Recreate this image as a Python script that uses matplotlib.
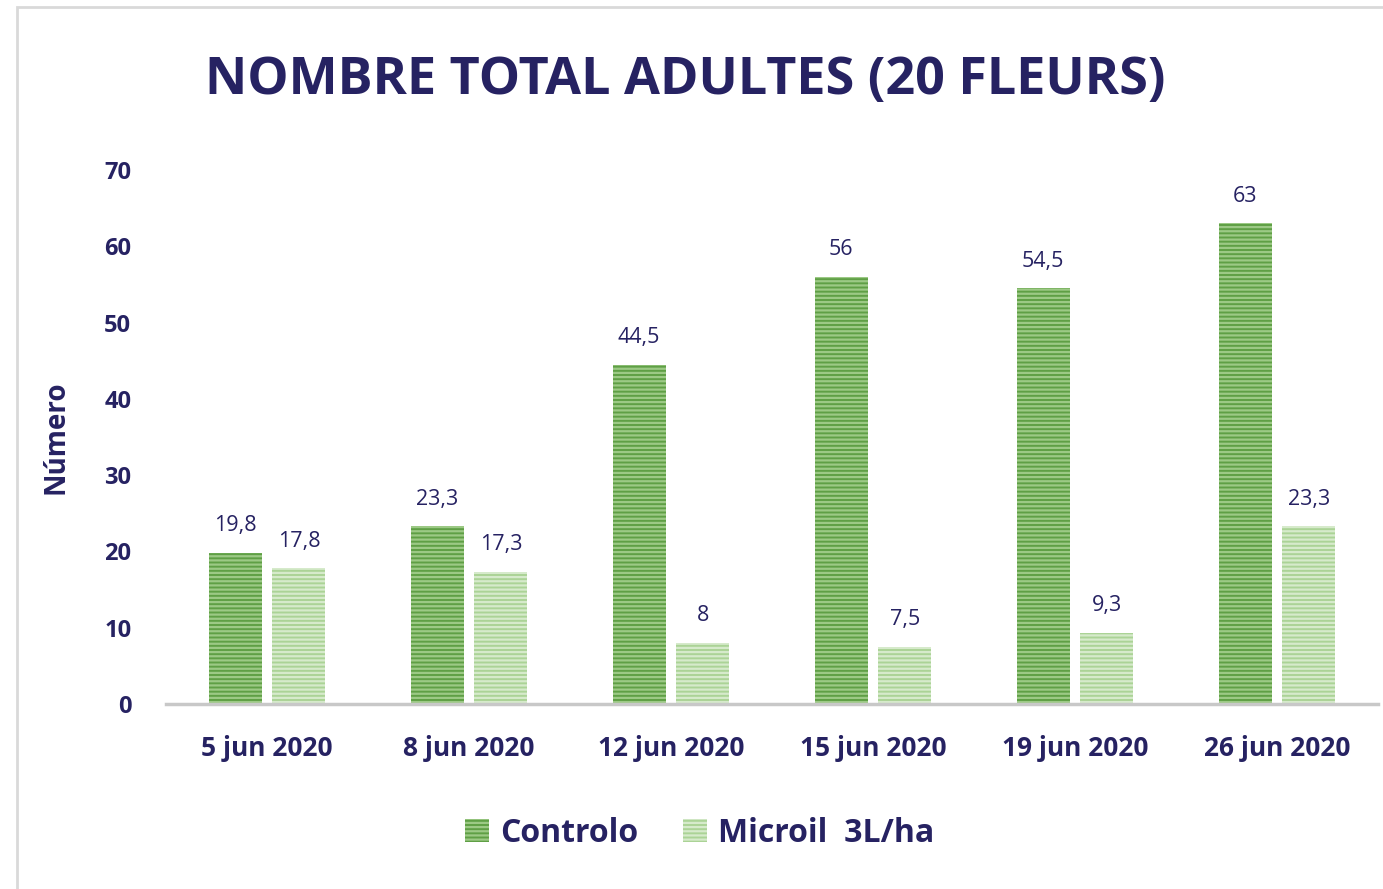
import matplotlib.pyplot as plt
from matplotlib.patches import Rectangle, Patch
import numpy as np

# ---- data ----
dates = ["5 jun 2020", "8 jun 2020", "12 jun 2020", "15 jun 2020", "19 jun 2020", "26 jun 2020"]
controlo = [19.8, 23.3, 44.5, 56, 54.5, 63]
microil = [17.8, 17.3, 8, 7.5, 9.3, 23.3]
series_names = ["Controlo", "Microil  3L/ha"]
title = "NOMBRE TOTAL ADULTES (20 FLEURS)"

navy = "#262262"
dark_green, dark_stripe = "#5f9f45", "#9cc985"
light_green, light_stripe = "#abd396", "#d6eacb"
plt.rcParams['font.family'] = ['Open Sans', 'DejaVu Sans']
plt.rcParams['hatch.linewidth'] = 1.6

fig = plt.figure(figsize=(13.83, 8.89), dpi=100)
fig.patch.set_facecolor("white")

# light frame around the chart
fig.patches.append(Rectangle((17 / 1383, -0.05), 1.2, 1 - 7 / 889 + 0.05, transform=fig.transFigure,
                             fill=False, edgecolor="#d9d9d9", linewidth=2))

ax = fig.add_axes([166 / 1383, 185 / 889, 1212 / 1383, 534 / 889])
ax.set_facecolor("none")

x = np.arange(len(dates))
w = 0.262
off = 0.158
b1 = ax.bar(x - off, controlo, w, color=dark_green, edgecolor=dark_stripe, linewidth=0, hatch="----")
b2 = ax.bar(x + off, microil, w, color=light_green, edgecolor=light_stripe, linewidth=0, hatch="----")

def fmt(v):
    s = f"{v:g}"
    return s.replace(".", ",")

for bars, vals in ((b1, controlo), (b2, microil)):
    for rect, v in zip(bars, vals):
        ax.annotate(fmt(v), (rect.get_x() + rect.get_width() / 2, v), xytext=(0, 12),
                    textcoords="offset points", ha="center", va="bottom",
                    fontsize=15.5, color=navy)

ax.set_xlim(-0.5, len(dates) - 0.5)
ax.set_ylim(0, 70)
ax.set_yticks(range(0, 71, 10))
ax.set_xticks(x)
ax.set_xticklabels(dates, fontsize=19, fontweight="bold", color=navy)
ax.tick_params(axis="x", length=0, pad=22)
ax.tick_params(axis="y", length=0, pad=25, labelsize=17, labelcolor=navy)
for lab in ax.get_yticklabels():
    lab.set_fontweight("bold")
for s in ("top", "right", "left"):
    ax.spines[s].set_visible(False)
ax.spines["bottom"].set_color("#c8c8c8")
ax.spines["bottom"].set_linewidth(2.5)

ax.set_ylabel("Número", fontsize=20, fontweight="bold", color=navy, labelpad=24)

fig.text(685 / 1383, 1 - 80 / 889, title, ha="center", va="center", fontsize=37.5,
         fontweight="bold", color=navy)

handles = [Patch(facecolor=dark_green, edgecolor=dark_stripe, linewidth=0, hatch="----"),
           Patch(facecolor=light_green, edgecolor=light_stripe, linewidth=0, hatch="----")]
leg = fig.legend(handles, series_names, loc="center", bbox_to_anchor=(700 / 1383, 1 - 833 / 889),
                 ncol=2, frameon=False, handlelength=0.75, handleheight=0.75, handletextpad=0.35,
                 columnspacing=1.4, prop={"size": 23, "weight": "bold"})
for t in leg.get_texts():
    t.set_color(navy)

fig.savefig("out.png", dpi=100)
